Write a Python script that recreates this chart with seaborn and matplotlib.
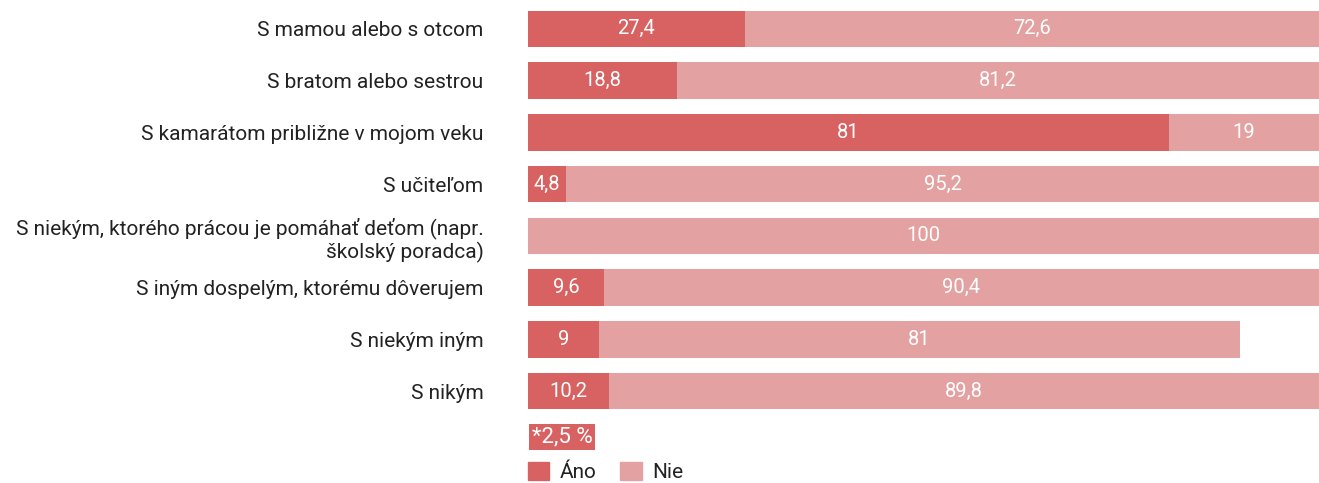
import matplotlib
matplotlib.use("Agg")
import matplotlib.pyplot as plt
from matplotlib.patches import Patch
import seaborn as sns
import pandas as pd

categories = [
    "S mamou alebo s otcom",
    "S bratom alebo sestrou",
    "S kamarátom približne v mojom veku",
    "S učiteľom",
    "S niekým, ktorého prácou je pomáhať deťom (napr.\nškolský poradca)",
    "S iným dospelým, ktorému dôverujem",
    "S niekým iným",
    "S nikým",
]
ano = [27.4, 18.8, 81, 4.8, 0, 9.6, 9, 10.2]
nie = [72.6, 81.2, 19, 95.2, 100, 90.4, 81, 89.8]
series_names = ["Áno", "Nie"]
footnote = "*2,5 %"

c_ano = "#D86262"
c_nie = "#E4A1A1"

sns.set_theme(style="white")
plt.rcParams["font.family"] = ["Roboto", "DejaVu Sans"]

df = pd.DataFrame({"cat": categories, "ano": ano, "nie": nie})
df["total"] = df["ano"] + df["nie"]

fig = plt.figure(figsize=(13.19, 4.83), dpi=100)
ax = fig.add_axes([528 / 1319, 66 / 483, 791 / 1319, 414 / 483])

sns.barplot(data=df, y="cat", x="total", color=c_nie, width=0.71,
            saturation=1, ax=ax, orient="h", linewidth=0)
sns.barplot(data=df, y="cat", x="ano", color=c_ano, width=0.71,
            saturation=1, ax=ax, orient="h", linewidth=0)

for i, (a, n) in enumerate(zip(ano, nie)):
    if a > 0:
        ax.text(a / 2, i, f"{a:g}".replace(".", ","), ha="center", va="center",
                color="white", fontsize=14.5)
    if n > 0:
        ax.text(a + n / 2, i, f"{n:g}".replace(".", ","), ha="center", va="center",
                color="white", fontsize=14.5)

ax.set_xlim(0, 100)
ax.set_ylim(7.5, -0.5)
ax.set_xlabel("")
ax.set_ylabel("")
ax.set_xticks([])
ax.tick_params(axis="y", length=0, pad=32, labelsize=15, colors="#222222")
for lbl in ax.get_yticklabels():
    lbl.set_horizontalalignment("right")
sns.despine(ax=ax, left=True, bottom=True)

fig.text(532 / 1319, 1 - 437 / 483, footnote, ha="left", va="center",
         color="white", fontsize=16,
         bbox=dict(boxstyle="square,pad=0.12", fc=c_ano, ec="none"))

handles = [Patch(color=c_ano, label=series_names[0]),
           Patch(color=c_nie, label=series_names[1])]
fig.legend(handles=handles, loc="center left",
           bbox_to_anchor=(513 / 1319, 1 - 472 / 483), ncol=2, frameon=False,
           fontsize=15, handlelength=1.05, handleheight=1.0, handletextpad=0.5,
           columnspacing=1.1, labelcolor="#222222", borderpad=0.2)

fig.savefig("out.png", dpi=100)
